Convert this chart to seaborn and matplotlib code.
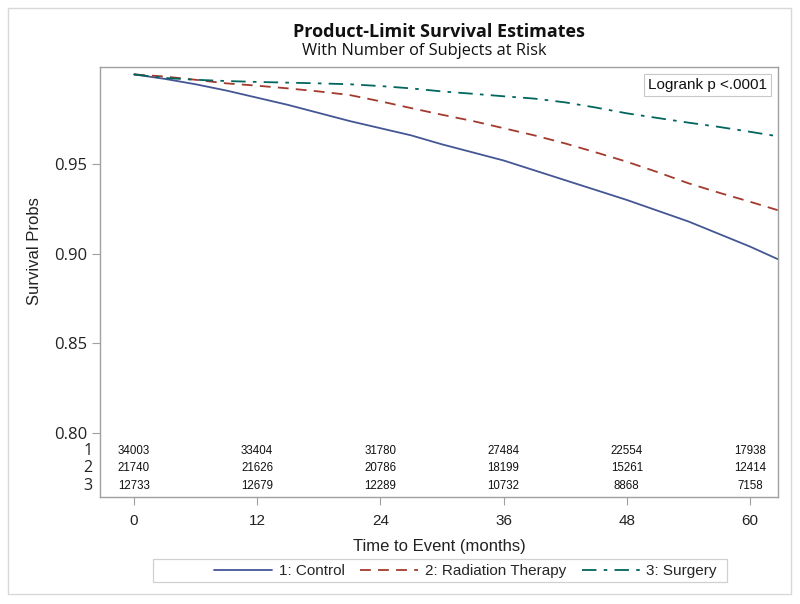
import numpy as np
import pandas as pd
import matplotlib
matplotlib.use("Agg")
import matplotlib.pyplot as plt
from matplotlib.patches import Rectangle
from matplotlib.lines import Line2D
import seaborn as sns

# ---- data ----
times = [0, 3, 6, 9, 12, 15, 18, 21, 24, 27, 30, 33, 36, 39, 42, 45, 48, 51, 54, 57, 60, 62.7]
control = [1.000, 0.9975, 0.9945, 0.991, 0.987, 0.983, 0.9785, 0.974, 0.970, 0.966, 0.961,
           0.9565, 0.952, 0.9465, 0.941, 0.9355, 0.930, 0.924, 0.918, 0.911, 0.904, 0.897]
radiation = [1.000, 0.9988, 0.997, 0.995, 0.9937, 0.9922, 0.9905, 0.9885, 0.985, 0.9812, 0.9775,
             0.974, 0.970, 0.966, 0.9615, 0.9565, 0.9513, 0.9455, 0.9393, 0.934, 0.929, 0.9243]
surgery = [1.000, 0.998, 0.997, 0.9963, 0.9958, 0.9954, 0.995, 0.9945, 0.9935, 0.9922, 0.9905,
           0.9892, 0.9878, 0.9865, 0.9844, 0.9815, 0.9783, 0.9757, 0.9731, 0.9707, 0.968, 0.9655]
group_names = ["1: Control", "2: Radiation Therapy", "3: Surgery"]
row_labels = ["1", "2", "3"]
risk_times = [0, 12, 24, 36, 48, 60]
risk_control = [34003, 33404, 31780, 27484, 22554, 17938]
risk_radiation = [21740, 21626, 20786, 18199, 15261, 12414]
risk_surgery = [12733, 12679, 12289, 10732, 8868, 7158]
yticks = [0.80, 0.85, 0.90, 0.95]
xticks = [0, 12, 24, 36, 48, 60]

df = pd.DataFrame({
    "time": times * 3,
    "surv": control + radiation + surgery,
    "group": [group_names[0]] * len(times) + [group_names[1]] * len(times) + [group_names[2]] * len(times),
})

colors = {group_names[0]: "#445694", group_names[1]: "#A23A2E", group_names[2]: "#01665E"}
dashes = {group_names[0]: "", group_names[1]: (6, 4), group_names[2]: (8, 4, 2, 4)}

sns.set_theme(style="white")
plt.rcParams["font.family"] = ["Liberation Sans", "DejaVu Sans"]
HUM = ["Open Sans", "DejaVu Sans"]

fig = plt.figure(figsize=(8, 6.04), dpi=100)
ax = fig.add_axes([0.125, 0.177, 0.8475, 0.712])

sns.lineplot(data=df, x="time", y="surv", hue="group", style="group", palette=colors,
             dashes=dashes, estimator=None, linewidth=1.3, ax=ax, legend=False)

ax.set_xlim(-3.31, 62.73)
ax.set_ylim(0.7643, 1.0041)
ax.set_yticks(yticks)
ax.set_yticklabels([f"{v:.2f}" for v in yticks], fontsize=12, color="#222222", family=HUM)
ax.set_xticks(xticks)
ax.set_xticklabels([str(v) for v in xticks], fontsize=11, color="#222222")
ax.tick_params(axis="both", which="both", direction="out", length=6, width=0.8,
               color="#a0a0a0", pad=3, left=True, bottom=True)
ax.tick_params(axis="x", pad=6)
for s in ax.spines.values():
    s.set_color("#a0a0a0")
    s.set_linewidth(1.0)

ax.set_xlabel("Time to Event (months)", fontsize=12, color="#222222", labelpad=8)
ax.set_ylabel("Survival Probs", fontsize=12, color="#222222")
ax.yaxis.set_label_coords(-0.085, 0.572)

# risk table inside axes
risk_rows = [risk_control, risk_radiation, risk_surgery]
row_y = [0.107, 0.0674, 0.0256]
for lab, vals, yy in zip(row_labels, risk_rows, row_y):
    for t, v in zip(risk_times, vals):
        ax.text(t, yy, str(v), transform=ax.get_xaxis_transform(), ha="center", va="center",
                fontsize=8.3, color="#111111")
    ax.text(-0.011, yy, lab, transform=ax.transAxes, ha="right", va="center",
            fontsize=11.5, color="#222222", family=HUM)

# logrank box
ax.text(0.9838, 0.958, "Logrank p <.0001", transform=ax.transAxes, ha="right", va="center",
        fontsize=11, color="#111111",
        bbox=dict(boxstyle="square,pad=0.28", fc="white", ec="#c8c8c8", lw=0.8))

# titles
fig.text(0.549, 0.947, "Product-Limit Survival Estimates", ha="center", va="center",
         fontsize=13, fontweight="bold", color="#111111", family=HUM)
fig.text(0.530, 0.9156, "With Number of Subjects at Risk", ha="center", va="center",
         fontsize=11.8, color="#111111", family=HUM)

# legend (entries without frame, frame drawn separately)
handles = [Line2D([0], [0], color=colors[g], lw=1.3,
                  linestyle=("-" if dashes[g] == "" else (0, dashes[g]))) for g in group_names]
leg = fig.legend(handles, group_names, loc="center left", bbox_to_anchor=(214 / 800, 1 - 571 / 604),
                 ncol=3, frameon=False, fontsize=11, handlelength=3.8, columnspacing=1.0,
                 handletextpad=0.45, borderpad=0, borderaxespad=0)
fig.patches.append(Rectangle((153 / 800, 1 - 582 / 604), 574 / 800, 23 / 604, transform=fig.transFigure,
                             fill=False, ec="#d0d0d0", lw=0.9))

# outer frame
fig.patches.append(Rectangle((0.01, 0.0166), 0.979, 0.970, transform=fig.transFigure,
                             fill=False, ec="#d8d8d8", lw=1.0))

fig.savefig("out.png", dpi=100)
